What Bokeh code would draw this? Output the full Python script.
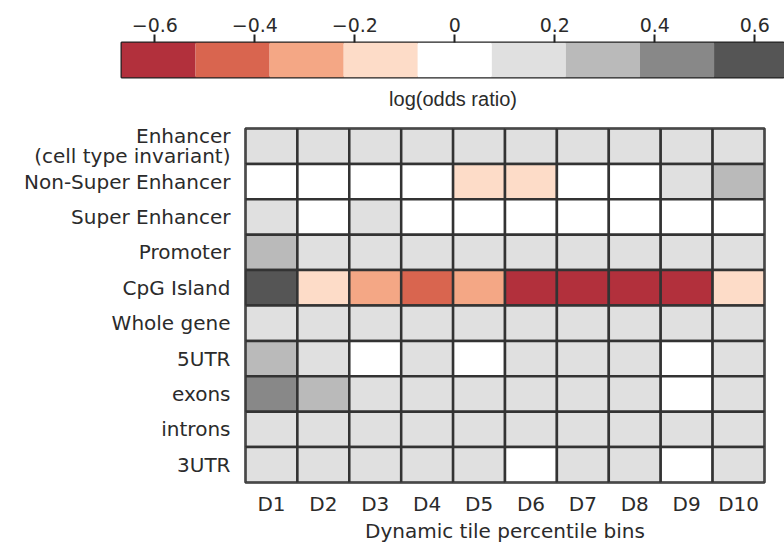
from bokeh.plotting import figure
from bokeh.models import (ColumnDataSource, LinearColorMapper, FixedTicker,
                          Range1d, LinearAxis)
from bokeh.transform import transform
from bokeh.embed import file_html
from bokeh.resources import INLINE

# ---- data -------------------------------------------------------------
bins = ["D1", "D2", "D3", "D4", "D5", "D6", "D7", "D8", "D9", "D10"]

features = [
    "Enhancer\n(cell type invariant)",
    "Non-Super Enhancer",
    "Super Enhancer",
    "Promoter",
    "CpG Island",
    "Whole gene",
    "5UTR",
    "exons",
    "introns",
    "3UTR",
]

# log(odds ratio) per dynamic tile percentile bin, D1..D10
enhancer_invariant = [0.12, 0.13, 0.11, 0.14, 0.12, 0.10, 0.13, 0.12, 0.11, 0.15]
non_super_enhancer = [0.03, 0.01, 0.02, 0.04, -0.12, -0.10, 0.05, 0.02, 0.09, 0.27]
super_enhancer = [0.10, 0.05, 0.09, 0.04, 0.03, 0.02, 0.01, 0.03, 0.04, 0.06]
promoter = [0.28, 0.15, 0.13, 0.12, 0.11, 0.12, 0.10, 0.11, 0.12, 0.13]
cpg_island = [0.58, -0.15, -0.31, -0.45, -0.29, -0.60, -0.63, -0.61, -0.58, -0.14]
whole_gene = [0.16, 0.12, 0.11, 0.10, 0.12, 0.11, 0.12, 0.10, 0.09, 0.13]
utr5 = [0.30, 0.12, 0.05, 0.10, 0.04, 0.11, 0.09, 0.10, 0.03, 0.12]
exons = [0.45, 0.26, 0.14, 0.12, 0.11, 0.10, 0.11, 0.09, 0.06, 0.12]
introns = [0.13, 0.12, 0.11, 0.10, 0.11, 0.12, 0.10, 0.11, 0.09, 0.14]
utr3 = [0.15, 0.13, 0.12, 0.11, 0.10, 0.05, 0.10, 0.11, 0.04, 0.13]

rows = [enhancer_invariant, non_super_enhancer, super_enhancer, promoter,
        cpg_island, whole_gene, utr5, exons, introns, utr3]

cb_ticks = [-0.6, -0.4, -0.2, 0.0, 0.2, 0.4, 0.6]
cb_tick_labels = ["\u22120.6", "\u22120.4", "\u22120.2", "0", "0.2", "0.4", "0.6"]

# diverging red/grey palette, 9 classes
palette = ["#b2303c", "#d9654f", "#f4a785", "#fddcc8", "#ffffff",
           "#e0e0e0", "#bababa", "#888888", "#555555"]
vmin, vmax = -2 / 3, 2 / 3

FONT = "DejaVu Sans"
TEXT = "#2b2b2b"
EDGE = "#333333"

mapper = LinearColorMapper(palette=palette, low=vmin, high=vmax)

# ---- colour bar -------------------------------------------------------
cb = figure(width=784, height=115, x_range=Range1d(-0.6666, 0.6594),
            y_range=Range1d(0, 1), output_backend="svg", toolbar_location=None,
            x_axis_location="above", min_border_left=121, min_border_right=0,
            min_border_top=42, min_border_bottom=38)
step = (vmax - vmin) / len(palette)
edges = [vmin + i * step for i in range(len(palette) + 1)]
cb.quad(left=edges[:-1], right=edges[1:], bottom=0, top=1,
        fill_color=palette, line_color=None)
cb.outline_line_color = "#222222"
cb.outline_line_width = 2
cb.xgrid.visible = False
cb.ygrid.visible = False
cb.yaxis.visible = False

top_ax = cb.xaxis[0]
top_ax.ticker = FixedTicker(ticks=cb_ticks)
top_ax.major_label_overrides = dict(zip(cb_ticks, cb_tick_labels))
top_ax.axis_line_color = None
top_ax.major_tick_in = 0
top_ax.major_tick_out = 8
top_ax.major_tick_line_width = 2
top_ax.major_tick_line_color = "#222222"
top_ax.minor_tick_line_color = None
top_ax.major_label_standoff = 3
top_ax.major_label_text_font = FONT
top_ax.major_label_text_font_size = "19px"
top_ax.major_label_text_color = TEXT

title_ax = LinearAxis(ticker=FixedTicker(ticks=[]), axis_label="log(odds ratio)")
title_ax.axis_line_color = None
title_ax.major_tick_line_color = None
title_ax.minor_tick_line_color = None
title_ax.axis_label_standoff = 10
title_ax.axis_label_text_font = "Liberation Sans"
title_ax.axis_label_text_font_size = "20px"
title_ax.axis_label_text_font_style = "normal"
title_ax.axis_label_text_color = TEXT
cb.add_layout(title_ax, "below")

# ---- heatmap ----------------------------------------------------------
src = ColumnDataSource(dict(
    bin=[b for _ in features for b in bins],
    feature=[f for f in features for _ in bins],
    value=[v for row in rows for v in row],
))

hm = figure(width=784, height=430, x_range=bins, y_range=list(reversed(features)),
            output_backend="svg", toolbar_location=None,
            min_border_left=245, min_border_right=20,
            min_border_top=13, min_border_bottom=61)
hm.rect(x="bin", y="feature", width=1, height=1, source=src,
        fill_color=transform("value", mapper), line_color=EDGE, line_width=2.5)
hm.outline_line_color = EDGE
hm.outline_line_width = 2.5
hm.xgrid.visible = False
hm.ygrid.visible = False

for ax in (hm.xaxis[0], hm.yaxis[0]):
    ax.axis_line_color = None
    ax.major_tick_line_color = None
    ax.minor_tick_line_color = None
    ax.major_tick_out = 0
    ax.major_tick_in = 0
    ax.major_label_text_font = FONT
    ax.major_label_text_font_size = "20px"
    ax.major_label_text_color = TEXT

hm.yaxis.major_label_text_line_height = 0.85
hm.yaxis.major_label_standoff = 15
hm.xaxis.major_label_standoff = 9
hm.xaxis.axis_label = "Dynamic tile percentile bins"
hm.xaxis.axis_label_standoff = 0
hm.xaxis.axis_label_text_font = FONT
hm.xaxis.axis_label_text_font_size = "20px"
hm.xaxis.axis_label_text_font_style = "normal"
hm.xaxis.axis_label_text_color = TEXT

# two independent roots, stacked on the page
open("out.html", "w").write(file_html([cb, hm], INLINE))
